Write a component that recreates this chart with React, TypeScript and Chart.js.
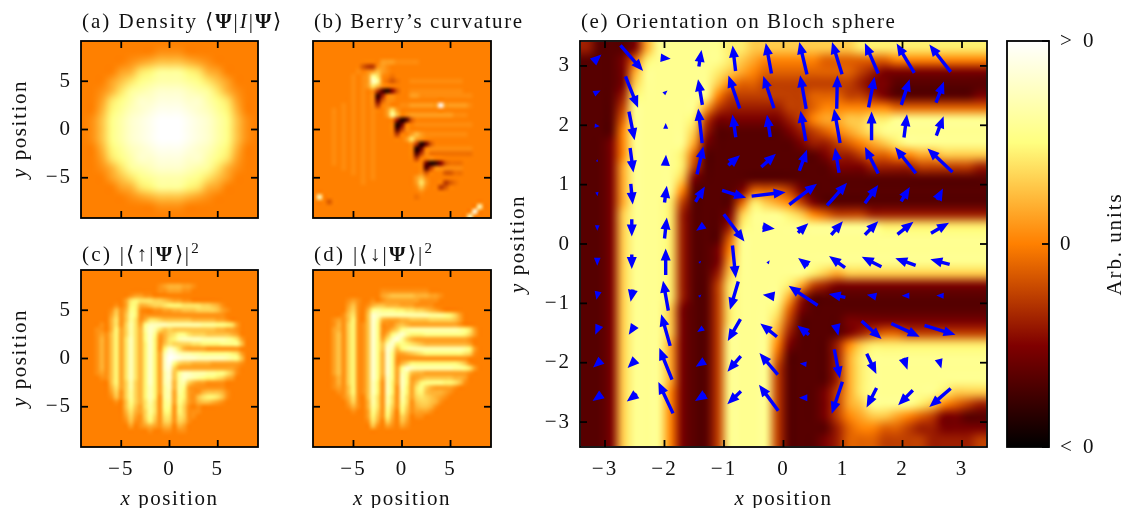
import React, { useEffect, useRef } from "react";
import { Chart, registerables } from "chart.js";

Chart.register(...registerables);

// ---- panel (e): colour levels 0..9, rows top to bottom, cell centres every 0.2 units
const orientationRows = [
  "2000169999998877777777788888888888",
  "0001489999998765555544444455555555",
  "0001699999987654444444432111111111",
  "0001799999975443333333321100000000",
  "0002899999953333333444332100000001",
  "0003999999632222233455555544444444",
  "0004999998311111123566778899999999",
  "0005999997200000012345678999999999",
  "0015999996100000001223456789999999",
  "0015999984000000000012234455667777",
  "0016999983000000000001112222333332",
  "0016999971000000000000000000000000",
  "0016999950000144431000000000000000",
  "0016999830000487653100000000000000",
  "0017999820001799987543332222222222",
  "0017999820002899999999999888888888",
  "0017999820004999999999999999999999",
  "0017999820015999999999999999999999",
  "0017999820016999999999999999999999",
  "0017999820027999999876777777777777",
  "0017999820038999986321111111111111",
  "0017999820038999962000000000000000",
  "0017999710038999841000000000000000",
  "0017999710038999730000111111111111",
  "0017999710039999620000123443333333",
  "0017999610039999510002578888888888",
  "0017999610039999400002689999999999",
  "0017999610039999300002689999999999",
  "0017999610039999300002689999999999",
  "0017999510039999300013689999998777",
  "0017999510039999300013679999875432",
  "0017999510039999300013567765431100",
  "0017999510039999300002455443221111",
  "0017999510039999300012444333322223",
];

// ---- panel (e): arrows, cell centres and components
const quiverX = [-3.13, -2.55, -1.98, -1.4, -0.83, -0.25, 0.33, 0.9, 1.48, 2.05, 2.63];
const quiverY = [3.13, 2.56, 1.99, 1.41, 0.84, 0.27, -0.3, -0.87, -1.45, -2.02, -2.59];
const quiverU = [
  [25, 68, 30, 8, -9, -17, -23, -30, -40, -53, -64],
  [20, 38, 11, -13, -34, -32, -18, 2, 18, 25, 24],
  [15, 17, 0, -12, -10, -10, -16, -18, 0, 9, 22],
  [3, 10, 2, 19, 35, 44, 23, -12, -40, -62, -75],
  [2, 6, 7, 28, 72, 102, 83, 60, 40, 26, 18],
  [0, 0, 7, -24, 62, 37, 31, 35, 40, 48, 54],
  [0, 0, 0, 6, 10, 6, -30, -48, -59, -61, -58],
  [-5, -7, -16, 7, -25, -35, -87, -50, -28, -23, -22],
  [-12, -18, -27, -18, -38, -50, -35, 8, 60, 85, 93],
  [-25, -25, -38, -27, -40, -55, -20, 17, 29, 12, 8],
  [-28, -30, -44, -31, -41, -58, -25, -32, -30, -44, -64],
];
const quiverV = [
  [23, -77, -3, 50, 77, 92, 97, 97, 92, 88, 82],
  [10, -94, 10, 77, 99, 97, 101, 101, 92, 77, 63],
  [-2, -86, 18, 104, 68, 67, 91, 103, 86, 70, 58],
  [7, -74, 33, 85, 30, 40, 63, 75, 80, 78, 71],
  [-12, -62, 50, 46, -22, 12, 63, 68, 55, 43, 34],
  [-17, -52, 63, -17, -82, -5, 29, 41, 41, 38, 32],
  [-24, -44, 80, 6, -98, 9, 23, 35, 30, 22, 16],
  [-25, -37, 90, 7, -85, 5, 59, 10, 6, 0, 1],
  [-28, -28, 95, -12, -66, 40, 28, -34, -54, -40, -28],
  [-22, -25, 95, -17, -47, 65, 2, -88, -61, -35, -28],
  [-20, -23, 94, -20, -39, 78, 0, -96, -58, -45, -56],
];
const quiverUnit = 1 / 178.5;

// ---- panel (a): hex levels above the zero colour, cell centres every 1 unit
const densityRows = [
  "",
  "000000001110",
  "0000012344432100000",
  "0000236799976320000",
  "00024689aaa98642000",
  "001369abcccba963100",
  "00268accdddcca86200",
  "00379bcdeeedcb97300",
  "0148acdefffedca8410",
  "0148acdefffedca8410",
  "0148acdefffedca8410",
  "00379bcdeeedcb97300",
  "00268accdddcca86200",
  "001369abcccba963100",
  "00024689aaa98642000",
  "0000236799976320000",
  "0000012344432100000",
  "000000001110",
  "",
];

// ---- panel (b): levels 0..j, "a" is zero, cell centres every 0.5 units
const berryLevels = [0, 0.05, 0.1, 0.15, 0.2, 0.25, 0.3, 0.36, 0.42, 0.47, 0.5, 0.525, 0.56, 0.62, 0.7, 0.8, 0.88, 0.92, 0.95, 1];
const berryRows = [
  "",
  "",
  "",
  "",
  "aaaaaaaaaaaaaacccbbbbb",
  "aaaaaaaaaa877bcb",
  "aaaaaaaaababcdcb",
  "aaaaaaaababcfeba9a",
  "aaaaaaaababcgfb989aabbbbbbbbbbb",
  "aaaaaaaababcedb",
  "aaaaaaaababab73158aabbbbbbbbbbb",
  "aaaaaaaababab26abaaaccbbbbbbbbbbb",
  "aaaaaaaababab48bb",
  "aaaaaabababab7abaabbccccccjcccccb",
  "aaaababababab" + "aacec",
  "aaaababababab" + "aacfdabccccccccc" + "bbb",
  "aaaababababab" + "aaaa6138",
  "aaaababababab" + "aaaa14aabbbbbbbbbbbb",
  "aaaababababab" + "aaaa37b",
  "aaaababababab" + "aaaa7aacdcbbbbbbbbb",
  "aaaababababab" + "aaaaaacecb",
  "aaaababababab" + "aaaaaaab7148",
  "aaaababababab" + "aaaaaaaa14abbbbbbbbb",
  "aaaababababab" + "aaaaaaaa37b999999999",
  "aaaababababab" + "aaaaaaaa7aab",
  "aaaababababab" + "aaaaaaaaaa41258999",
  "aaaaaabababab" + "aaaaaaaaaa37bbbbbb",
  "aaaaaaaababab" + "aaaaaaaaab8aaa8899",
  "aaaaaaaaaabab" + "aaaaaaaacdb",
  "aaaaaaaaaabaaaaaaaaaacecaaa789",
  "aaaaaaaaaaaaaaaaaaaaabdbaa78",
  "aaaaaaaaaaaaaaaaaaaaaab",
  "agaaaaaaaaaaaaaaaaaaa9",
  "aaa8",
  "aaaaaaaaaaaaaaaaaaaaaaaaaaaaaaaaaag",
  "aaaaaaaaaaaaaaaaaaaaaaaaaaaaaaaaai",
  "aaaaaaaaaaaaaaaaaaaaaaaaaaaaaaaag",
];

// ---- panel (c): hex levels above zero, cell centres every 0.5 units
const spinUpRows = [
  "",
  "",
  "",
  "000000000000000012333221",
  "000000000000000011222110",
  "000000000012211",
  "00000000026766655432211",
  "000000010277334556777666655431",
  "0000001413871001122334445555421",
  "000000251497111111111111111111",
  "0000003614961366544444433333221",
  "000010361" + "5a628bbbbaaaaaaa99988762",
  "00011037" + "25a639ca64544444444433221",
  "000121472" + "5a638c823568865554444432",
  "0001314726b638c71367abbbbaaaaa9862",
  "0001314726b637c7146555566777788884",
  "0001314726b637c717ca6322221111111",
  "0001314726b637c72aedbaa99888888762",
  "0001314726b637c72bfedcccbbbbbba984",
  "0001314726b637c72be854433332222221",
  "0001314726b637c72bd52222222222221",
  "0001214726b637c72ac48bbaaa9988641",
  "0000114726b637c72ac49cba98776532",
  "0000004725a537c72ab39a53221111",
  "0000003625a537b729b39821111111",
  "00000025159" + "537b729a297211344431",
  "00000014159537b719a287214677641",
  "0000000104" + "8536a618928621344321",
  "0000000004742696188175101",
  "0000000003632596177175111",
  "0000000002521585166165110",
  "0000000001411474155154100",
  "0000000000201232133032",
  "0000000000000010011011",
  "",
  "",
  "",
];

// ---- panel (d): hex levels above zero, cell centres every 0.5 units
const spinDownRows = [
  "",
  "",
  "",
  "",
  "000000000000001111111111",
  "000000000000002344444333221",
  "000000012100101222222211110",
  "0000000241013443332221111",
  "000000035103898887766554321",
  "000000146104cbaaaaaaaaaa9998752",
  "000012147104c932223344445555542",
  "000013157114c811134322222222221",
  "000023157114c8113589aaaaaaaaaa9862",
  "000024157114c8137ac977788888888752",
  "000024157114c826bd95322222222222" + "1",
  "000024157114c84ac787654333333333" + "2",
  "000024157114c84ca479aaaaaaaaaaa972",
  "000024157114c83c822345677777777651",
  "000024157114c83c8111111111111111",
  "000024157114c83c81357777777777641",
  "000024157114c83c828cbaaaaaaaa99862",
  "000024157114c83c82a9433222222222" + "1",
  "000013157114c82b82b8223444444332",
  "000013157114b71b72b8247888877641",
  "000012147114b71b71b72685322221",
  "000001147114b71b71a7267433321",
  "000000136104a61a61a625654321",
  "000000025103a61a61961455431",
  "00000001310396195185134431",
  "0000000010028518407412221",
  "00000000000274173053011",
  "00000000000163052042",
  "00000000000041021021",
  "",
  "",
  "",
  "",
];

// ---- ticks and labels
const smallTicks = [-5, 0, 5];
const largeTicks = [-3, -2, -1, 0, 1, 2, 3];
const barTicks = [-1, 0, 1];
const barTickLabels = ["< 0", "0", "> 0"];
const smallLimit = 9.17;
const largeLimit = 3.42;

const FONT = '"Liberation Serif"';
const INK = "#111111";
const BLUE = "#0000ff";

function afmhot(t: number): [number, number, number] {
  const c = (v: number) => Math.max(0, Math.min(1, v));
  return [c(2 * t) * 255, c(2 * t - 0.5) * 255, c(2 * t - 1) * 255];
}

const HEX = "0123456789abcdefghij";

function heatData(rows: string[], fill: string, first: number, step: number, size: number, toPos: (i: number) => number) {
  const data: any[] = [];
  for (let r = 0; r < size; r++) {
    const row = (rows[r] || "").padEnd(size, fill);
    for (let c = 0; c < size; c++) {
      data.push({ x: first + c * step, y: -first - r * step, v: toPos(HEX.indexOf(row[c])) });
    }
  }
  return { label: "heat", data, size, step, pointRadius: 0 };
}

function quiverData() {
  const data: any[] = [];
  quiverY.forEach((y, r) =>
    quiverX.forEach((x, c) => data.push({ x, y, u: quiverU[r][c] * quiverUnit, v: quiverV[r][c] * quiverUnit }))
  );
  return { label: "quiver", data, pointRadius: 0 };
}

const heatPlugin = {
  id: "heat",
  beforeDatasetsDraw(chart: any) {
    const { ctx, chartArea: a, scales } = chart;
    ctx.save();
    ctx.beginPath();
    ctx.rect(a.left, a.top, a.width, a.height);
    ctx.clip();
    chart.data.datasets.forEach((ds: any) => {
      if (ds.label !== "heat") return;
      const off = document.createElement("canvas");
      off.width = ds.size;
      off.height = ds.size;
      const oc = off.getContext("2d")!;
      const img = oc.createImageData(ds.size, ds.size);
      ds.data.forEach((p: any, i: number) => {
        const [r, g, b] = afmhot(p.v);
        img.data[i * 4] = r;
        img.data[i * 4 + 1] = g;
        img.data[i * 4 + 2] = b;
        img.data[i * 4 + 3] = 255;
      });
      oc.putImageData(img, 0, 0);
      const first = ds.data[0];
      const last = ds.data[ds.data.length - 1];
      const x0 = scales.x.getPixelForValue(first.x - ds.step / 2);
      const x1 = scales.x.getPixelForValue(last.x + ds.step / 2);
      const y0 = scales.y.getPixelForValue(first.y + ds.step / 2);
      const y1 = scales.y.getPixelForValue(last.y - ds.step / 2);
      ctx.imageSmoothingEnabled = true;
      ctx.imageSmoothingQuality = "high";
      ctx.drawImage(off, x0, y0, x1 - x0, y1 - y0);
    });
    ctx.restore();
  },
};

const quiverPlugin = {
  id: "quiver",
  afterDatasetsDraw(chart: any) {
    const { ctx, scales } = chart;
    chart.data.datasets.forEach((ds: any) => {
      if (ds.label !== "quiver") return;
      ctx.fillStyle = BLUE;
      ds.data.forEach((p: any) => {
        const tx = scales.x.getPixelForValue(p.x - p.u / 2);
        const ty = scales.y.getPixelForValue(p.y - p.v / 2);
        const hx = scales.x.getPixelForValue(p.x + p.u / 2);
        const hy = scales.y.getPixelForValue(p.y + p.v / 2);
        const len = Math.hypot(hx - tx, hy - ty);
        if (len < 0.5) return;
        const ux = (hx - tx) / len;
        const uy = (hy - ty) / len;
        const k = Math.min(1, len / 12);
        const hl = 12 * k;
        const hw = 5 * k;
        const sw = 1.7 * k;
        const pt = (along: number, side: number) => [tx + ux * along - uy * side, ty + uy * along + ux * side];
        const shape =
          len <= 12
            ? [pt(0, hw), pt(len, 0), pt(0, -hw)]
            : [pt(0, sw), pt(len - hl, sw), pt(len - hl, hw), pt(len, 0), pt(len - hl, -hw), pt(len - hl, -sw), pt(0, -sw)];
        ctx.beginPath();
        shape.forEach(([x, y], i) => (i ? ctx.lineTo(x, y) : ctx.moveTo(x, y)));
        ctx.closePath();
        ctx.fill();
      });
    });
  },
};

const framePlugin = {
  id: "frame",
  beforeDraw(chart: any, _a: any, opts: any) {
    (chart.ctx as any).letterSpacing = opts.tickSpacing ?? "2px";
  },
  afterDraw(chart: any, _a: any, opts: any) {
    const { ctx, chartArea: a, scales } = chart;
    const L = 7;
    ctx.save();
    ctx.strokeStyle = "#000000";
    ctx.lineWidth = 1.8;
    const line = (x0: number, y0: number, x1: number, y1: number) => {
      ctx.beginPath();
      ctx.moveTo(x0, y0);
      ctx.lineTo(x1, y1);
      ctx.stroke();
    };
    if (opts.colorbar) {
      scales.y.ticks.forEach((t: any) => {
        const y = scales.y.getPixelForValue(t.value);
        line(a.right, y, a.right - L, y);
      });
    } else {
      scales.x.ticks.forEach((t: any) => {
        const x = scales.x.getPixelForValue(t.value);
        line(x, a.top, x, a.top + L);
        line(x, a.bottom, x, a.bottom - L);
      });
      scales.y.ticks.forEach((t: any) => {
        const y = scales.y.getPixelForValue(t.value);
        line(a.left, y, a.left + L, y);
        line(a.right, y, a.right - L, y);
      });
    }
    ctx.strokeRect(a.left, a.top, a.width, a.height);
    ctx.restore();
  },
};

type Seg = { t: string; s?: "i" | "b"; sup?: boolean };
type Rich = { segs: Seg[]; x: number; y: number; rotate?: boolean; center?: boolean; spacing?: number };

const richPlugin = {
  id: "rich",
  afterDraw(chart: any, _a: any, opts: any) {
    const ctx = chart.ctx;
    (opts.items || []).forEach((it: Rich) => {
      ctx.save();
      ctx.fillStyle = INK;
      ctx.textBaseline = "alphabetic";
      ctx.textAlign = "left";
      (ctx as any).letterSpacing = `${it.spacing ?? 1.6}px`;
      const fontOf = (g: Seg) =>
        `${g.s === "i" ? "italic " : ""}${g.s === "b" ? "bold " : ""}${g.sup ? 15 : 21}px ${FONT}`;
      let total = 0;
      it.segs.forEach((g) => {
        ctx.font = fontOf(g);
        total += ctx.measureText(g.t).width;
      });
      ctx.translate(it.x - opts.left, it.y - opts.top);
      if (it.rotate) ctx.rotate(-Math.PI / 2);
      let x = it.center ? -total / 2 : 0;
      it.segs.forEach((g) => {
        ctx.font = fontOf(g);
        ctx.fillText(g.t, x, g.sup ? -8 : 0);
        x += ctx.measureText(g.t).width;
      });
      ctx.restore();
    });
  },
};

const fmt = (v: number) => (v < 0 ? `\u2212${Math.abs(v)}` : `${v}`);

type PanelProps = {
  box: { left: number; top: number; width: number; height: number };
  area: { left: number; top: number; right: number; bottom: number };
  limit: number;
  ticks: number[];
  showX: boolean;
  showY: boolean;
  datasets: any[];
  items: Rich[];
};

function Panel({ box, area, limit, ticks, showX, showY, datasets, items }: PanelProps) {
  const ref = useRef<HTMLCanvasElement>(null);
  useEffect(() => {
    const common = {
      afterBuildTicks: (s: any) => {
        s.ticks = ticks.map((value) => ({ value }));
      },
      border: { display: false },
      grid: { display: false, drawTicks: false },
    };
    const tickFont = { family: FONT, size: 21 };
    const chart = new Chart(ref.current!, {
      type: "scatter",
      data: { datasets },
      plugins: [heatPlugin, quiverPlugin, framePlugin, richPlugin],
      options: {
        responsive: false,
        animation: false,
        devicePixelRatio: 1,
        layout: {
          autoPadding: false,
          padding: { top: area.top - box.top, right: box.left + box.width - area.right, left: 0, bottom: 0 },
        },
        scales: {
          x: {
            ...common,
            type: "linear",
            min: -limit,
            max: limit,
            afterFit: (s: any) => {
              s.height = box.top + box.height - area.bottom;
            },
            ticks: {
              autoSkip: false,
              maxRotation: 0,
              minRotation: 0,
              padding: 10,
              color: INK,
              font: tickFont,
              callback: (v: any) => (showX ? fmt(v) : ""),
            },
          },
          y: {
            ...common,
            type: "linear",
            min: -limit,
            max: limit,
            afterFit: (s: any) => {
              s.width = area.left - box.left;
            },
            ticks: {
              autoSkip: false,
              padding: 9,
              color: INK,
              font: tickFont,
              callback: (v: any) => (showY ? fmt(v) : ""),
            },
          },
        },
        plugins: {
          legend: { display: false },
          tooltip: { enabled: false },
          rich: { items, left: box.left, top: box.top },
          frame: {},
        },
      } as any,
    });
    return () => chart.destroy();
  }, []);
  return (
    <canvas
      ref={ref}
      width={box.width}
      height={box.height}
      style={{ position: "absolute", left: box.left, top: box.top, width: box.width, height: box.height }}
    />
  );
}

function Colorbar() {
  const ref = useRef<HTMLCanvasElement>(null);
  useEffect(() => {
    const box = { left: 1000, top: 0, width: 125, height: 508 };
    const rampPlugin = {
      id: "ramp",
      beforeDatasetsDraw(chart: any) {
        const { ctx, chartArea: a, scales } = chart;
        const top = scales.y.getPixelForValue(1);
        const bottom = scales.y.getPixelForValue(-1);
        const g = ctx.createLinearGradient(0, bottom, 0, top);
        for (let i = 0; i <= 64; i++) {
          const [r, gg, b] = afmhot(i / 64);
          g.addColorStop(i / 64, `rgb(${r},${gg},${b})`);
        }
        ctx.fillStyle = g;
        ctx.fillRect(a.left, a.top, a.width, a.height);
      },
    };
    const chart = new Chart(ref.current!, {
      type: "scatter",
      data: { datasets: [{ label: "bar", data: barTicks.map((y) => ({ x: 0, y })), pointRadius: 0 }] },
      plugins: [rampPlugin, framePlugin, richPlugin],
      options: {
        responsive: false,
        animation: false,
        devicePixelRatio: 1,
        layout: { autoPadding: false, padding: { top: 41, left: 7, right: 0, bottom: 61 } },
        scales: {
          x: { type: "linear", min: -1, max: 1, display: false },
          y: {
            type: "linear",
            position: "right",
            min: -1,
            max: 1,
            afterBuildTicks: (s: any) => {
              s.ticks = barTicks.map((value) => ({ value }));
            },
            afterFit: (s: any) => {
              s.width = 76;
            },
            border: { display: false },
            grid: { display: false, drawTicks: false },
            ticks: {
              autoSkip: false,
              padding: 11,
              color: INK,
              font: { family: FONT, size: 21 },
              callback: (v: any) => barTickLabels[barTicks.indexOf(v)],
            },
          },
        },
        plugins: {
          legend: { display: false },
          tooltip: { enabled: false },
          frame: { colorbar: true, tickSpacing: "3px" },
          rich: {
            left: box.left,
            top: box.top,
            items: [{ segs: [{ t: "Arb. units" }], x: 1121, y: 244, rotate: true, center: true, spacing: 1.9 }],
          },
        },
      } as any,
    });
    return () => chart.destroy();
  }, []);
  return (
    <canvas
      ref={ref}
      width={125}
      height={508}
      style={{ position: "absolute", left: 1000, top: 0, width: 125, height: 508 }}
    />
  );
}

const xPos: Seg[] = [{ t: "x", s: "i" }, { t: " position" }];
const yPos: Seg[] = [{ t: "y", s: "i" }, { t: " position" }];
const Psi: Seg = { t: "\u03A8", s: "b" };

const smallHeat = (t: number) => 0.5 + t / 30;
const berryHeat = (t: number) => berryLevels[t];
const orientationHeat = (t: number) => 0.17 + t * 0.068;

export default function App() {
  return (
    <div style={{ position: "absolute", left: 0, top: 0, width: 1125, height: 508, overflow: "hidden", background: "#fff" }}>
      <Panel
        box={{ left: 0, top: 0, width: 300, height: 240 }}
        area={{ left: 81, top: 41, right: 258, bottom: 218 }}
        limit={smallLimit}
        ticks={smallTicks}
        showX={false}
        showY={true}
        datasets={[heatData(densityRows, "0", -9, 1, 19, smallHeat)]}
        items={[
          {
            segs: [{ t: "(a) Density \u27E8" }, Psi, { t: "|" }, { t: "I", s: "i" }, { t: "|" }, Psi, { t: "\u27E9" }],
            x: 82,
            y: 28,
            spacing: 2,
          },
          { segs: yPos, x: 26, y: 129, rotate: true, center: true },
        ]}
      />
      <Panel
        box={{ left: 300, top: 0, width: 245, height: 240 }}
        area={{ left: 313, top: 41, right: 491, bottom: 218 }}
        limit={smallLimit}
        ticks={smallTicks}
        showX={false}
        showY={false}
        datasets={[heatData(berryRows, "a", -9, 0.5, 37, berryHeat)]}
        items={[{ segs: [{ t: "(b) Berry\u2019s curvature" }], x: 314, y: 28 }]}
      />
      <Panel
        box={{ left: 0, top: 235, width: 300, height: 273 }}
        area={{ left: 81, top: 270, right: 258, bottom: 447 }}
        limit={smallLimit}
        ticks={smallTicks}
        showX={true}
        showY={true}
        datasets={[heatData(spinUpRows, "0", -9, 0.5, 37, smallHeat)]}
        items={[
          { segs: [{ t: "(c) |\u27E8\u2191|" }, Psi, { t: "\u27E9|" }, { t: "2", sup: true }], x: 82, y: 261, spacing: 2.3 },
          { segs: yPos, x: 26, y: 358, rotate: true, center: true },
          { segs: xPos, x: 169.5, y: 505, center: true },
        ]}
      />
      <Panel
        box={{ left: 300, top: 235, width: 245, height: 273 }}
        area={{ left: 313, top: 270, right: 491, bottom: 447 }}
        limit={smallLimit}
        ticks={smallTicks}
        showX={true}
        showY={false}
        datasets={[heatData(spinDownRows, "0", -9, 0.5, 37, smallHeat)]}
        items={[
          { segs: [{ t: "(d) |\u27E8\u2193|" }, Psi, { t: "\u27E9|" }, { t: "2", sup: true }], x: 314, y: 261, spacing: 2.3 },
          { segs: xPos, x: 402, y: 505, center: true },
        ]}
      />
      <Panel
        box={{ left: 500, top: 0, width: 495, height: 508 }}
        area={{ left: 580, top: 41, right: 987, bottom: 447 }}
        limit={largeLimit}
        ticks={largeTicks}
        showX={true}
        showY={true}
        datasets={[heatData(orientationRows, "0", -3.3, 0.2, 34, orientationHeat), quiverData()]}
        items={[
          { segs: [{ t: "(e) Orientation on Bloch sphere" }], x: 581, y: 28 },
          { segs: yPos, x: 524, y: 244, rotate: true, center: true },
          { segs: xPos, x: 783.5, y: 505, center: true },
        ]}
      />
      <Colorbar />
    </div>
  );
}
